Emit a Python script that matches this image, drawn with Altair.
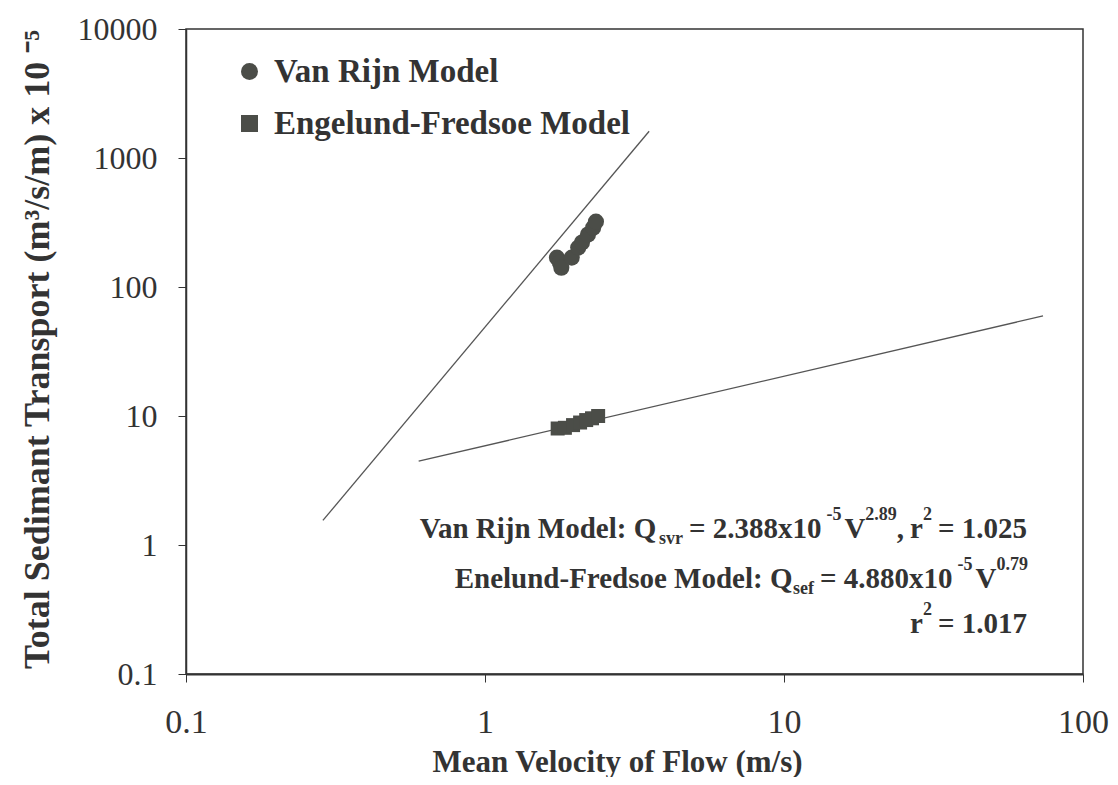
import altair as alt
import pandas as pd

# ---------------- data ----------------
series_names = ["Van Rijn Model", "Engelund-Fredsoe Model"]

vr_v = [1.74, 1.78, 1.80, 1.95, 2.05, 2.11, 2.21, 2.30, 2.35]
vr_q = [169, 155, 141, 169, 202, 221, 255, 288, 321]

ef_v = [1.75, 1.85, 1.97, 2.08, 2.18, 2.28, 2.39]
ef_q = [8.0, 8.1, 8.5, 8.9, 9.3, 9.6, 10.0]

vr_line_v = [0.287, 3.54]
vr_line_q = [1.55, 1611]
ef_line_v = [0.60, 73.5]
ef_line_q = [4.46, 59.7]

x_ticks = [0.1, 1, 10, 100]
y_ticks = [0.1, 1, 10, 100, 1000, 10000]

x_title = "Mean Velocity of Flow (m/s)"
y_title = "Total Sedimant Transport (m\u00b3/s/m) x 10 \u207b\u2075"

eq_lines = [
    [("Van Rijn Model: Q", "main"), ("svr", "sub"), (6, "gap"), ("= 2.388x10", "main"), (5, "gap"),
     ("-5", "sup"), (3, "gap"), ("V", "main"), ("2.89", "sup"), (",", "main"), (6, "gap"), ("r", "main"),
     ("2", "sup"), (6, "gap"), ("= 1.025", "main")],
    [("Enelund-Fredsoe Model: Q", "main"), ("sef", "sub"), (6, "gap"), ("= 4.880x10", "main"), (5, "gap"),
     ("-5", "sup"), (3, "gap"), ("V", "main"), ("0.79", "sup")],
    [("r", "main"), ("2", "sup"), (6, "gap"), ("= 1.017", "main")],
]

# ---------------- styling / layout ----------------
FONT = "Liberation Serif"
INK = "#333333"
MARK = "#4b4d48"
OX, OY = 186, 29          # plot-area origin on the page
W, H = 897, 645

pts_vr = pd.DataFrame({"v": vr_v, "q": vr_q, "model": series_names[0]})
pts_ef = pd.DataFrame({"v": ef_v, "q": ef_q, "model": series_names[1]})
lines = pd.concat([
    pd.DataFrame({"v": vr_line_v, "q": vr_line_q, "model": series_names[0]}),
    pd.DataFrame({"v": ef_line_v, "q": ef_line_q, "model": series_names[1]}),
])

xscale = alt.Scale(type="log", domain=[0.1, 100])
yscale = alt.Scale(type="log", domain=[0.1, 10000])

x_enc = alt.X("v:Q", scale=xscale, axis=alt.Axis(
    values=x_ticks, format="~g", grid=False, title=x_title,
    labelFont=FONT, labelFontSize=34, labelColor=INK, labelPadding=23, labelFlush=False,
    tickSize=8, tickColor=INK, domainColor=INK, domainWidth=2,
    titleFont=FONT, titleFontSize=31, titleFontWeight="bold", titleColor=INK,
    titleX=431, titleY=97, titleAlign="center", titleBaseline="alphabetic"))
y_enc = alt.Y("q:Q", scale=yscale, axis=alt.Axis(
    values=y_ticks, format="~g", grid=False, title=y_title,
    labelFont=FONT, labelFontSize=32, labelColor=INK, labelPadding=21, labelFlush=False,
    tickSize=8, tickColor=INK, domainColor=INK, domainWidth=1.5,
    titleFont=FONT, titleFontSize=36, titleFontWeight="bold", titleColor=INK,
    titleX=-149, titleY=320, titleAlign="center", titleBaseline="middle"))

shape_scale = alt.Scale(domain=series_names, range=["circle", "square"])
legend = alt.Legend(orient="none", legendX=47, legendY=26, title=None, padding=0,
                    labelFont=FONT, labelFontSize=33, labelFontWeight="bold", labelColor=INK,
                    labelOffset=8, labelLimit=0, rowPadding=18, symbolSize=289,
                    symbolFillColor=MARK, symbolStrokeColor=MARK, symbolStrokeWidth=0,
                    symbolOpacity=1)

fit_lines = alt.Chart(lines).mark_line(color="#555555", strokeWidth=1.3).encode(
    x=x_enc, y=y_enc, detail="model:N")

vr_layer = alt.Chart(pts_vr).mark_point(filled=True, size=260, opacity=1, color=MARK).encode(
    x=x_enc, y=y_enc, shape=alt.Shape("model:N", scale=shape_scale, legend=legend))
ef_layer = alt.Chart(pts_ef).mark_point(filled=True, size=196, opacity=1, color=MARK).encode(
    x=x_enc, y=y_enc, shape=alt.Shape("model:N", scale=shape_scale, legend=legend))

# ---------------- equation annotation (rich text built from pieces) ----------------
TNRB = {" ": 250, ",": 250, "-": 333, ".": 250, ":": 333, "=": 570, "E": 667, "F": 611, "M": 944,
        "Q": 778, "R": 722, "V": 722, "a": 500, "d": 556, "e": 444, "f": 333, "g": 500, "i": 278,
        "j": 333, "l": 278, "n": 556, "o": 500, "r": 444, "s": 389, "u": 556, "v": 500, "x": 500}
SIZES = {"main": 29, "sub": 18, "sup": 18}
DY = {"main": 0, "sub": 6, "sup": -18}


def text_w(t, fs):
    return sum(TNRB.get(c, 500) for c in t) * fs / 1000.0


line_right = [1027, 1028, 1027]
line_base = [538, 588, 633]

ann_layers = []
dummy = pd.DataFrame({"a": [0]})
for pieces, right, base in zip(eq_lines, line_right, line_base):
    widths = [p[0] if p[1] == "gap" else text_w(p[0], SIZES[p[1]]) for p in pieces]
    x = right - sum(widths)
    for (t, kind), w in zip(pieces, widths):
        if kind != "gap":
            ann_layers.append(
                alt.Chart(dummy).mark_text(align="left", baseline="alphabetic", font=FONT,
                                           fontWeight="bold", fontSize=SIZES[kind], color=INK)
                .encode(x=alt.value(x - OX), y=alt.value(base + DY[kind] - OY), text=alt.value(t)))
        x += w

chart = alt.layer(fit_lines, vr_layer, ef_layer, *ann_layers).properties(
    width=W, height=H,
    autosize=alt.AutoSizeParams(type="none"),
    padding={"left": OX - 8, "top": OY - 8, "right": 27, "bottom": 103},
    background="white",
).configure_view(stroke=INK, strokeWidth=1.5)

chart.save("out.html", embed_options={"renderer": "svg", "actions": False})
